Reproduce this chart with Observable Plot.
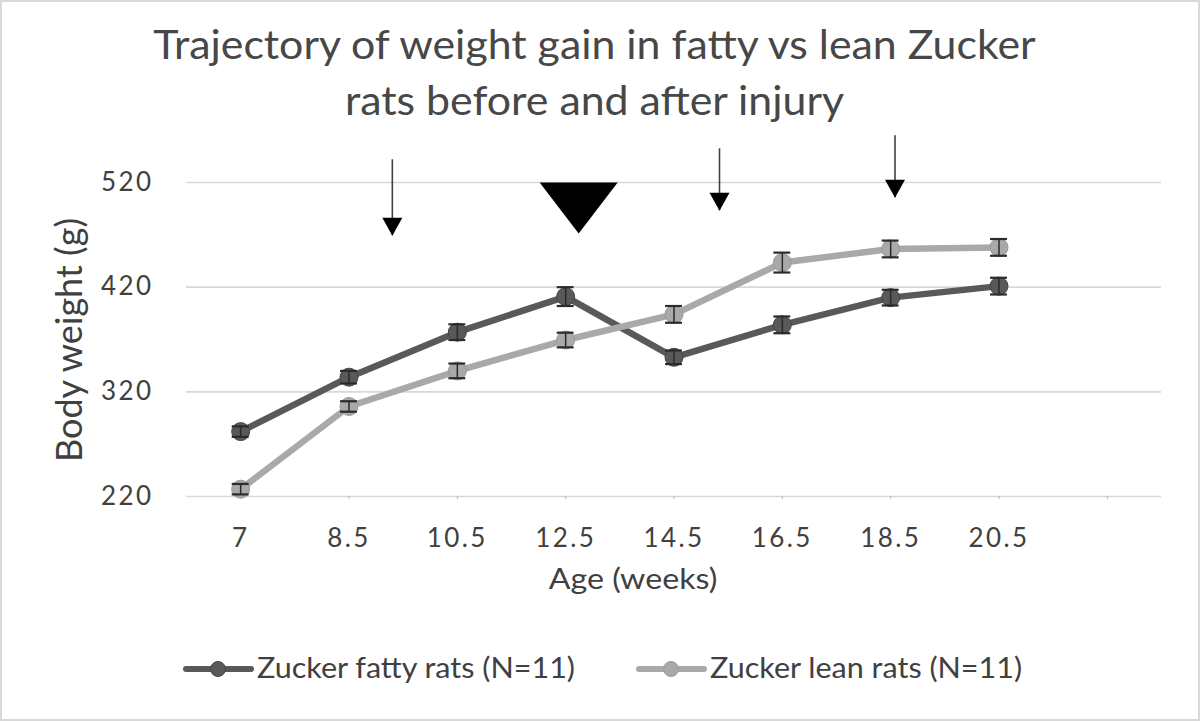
<!DOCTYPE html>
<html>
<head>
<meta charset="utf-8">
<script src="https://cdn.jsdelivr.net/npm/d3@7"></script>
<script src="https://cdn.jsdelivr.net/npm/@observablehq/plot@0.6"></script>
<style>
  body { margin: 0; background: #fff; }
  #wrap { position: relative; width: 1200px; height: 721px; overflow: hidden; font-family: Lato, "Open Sans", sans-serif; color: #404040; background: #fff; }
  #frame { position: absolute; left: 0; top: 0; width: 1196px; height: 717px; border: 2px solid #d9d9d9; pointer-events: none; }
  #chart { position: absolute; left: 0; top: 0; }
  #chart g[aria-label="y-axis tick label"] text,
  #chart g[aria-label="x-axis tick label"] text { letter-spacing: 2.4px; }
  #title { position: absolute; left: 0; width: 1189px; top: 16px; text-align: center; font-size: 41px; line-height: 56px; color: #474747; white-space: nowrap; transform: scaleX(1.045); transform-origin: 594.5px 0; }
  #ylabel { position: absolute; width: 320px; left: -92px; top: 320px; height: 40px; line-height: 40px; text-align: center; font-size: 36px; transform: rotate(-90deg); white-space: nowrap; }
  #xlabel { position: absolute; left: 433px; width: 400px; top: 561px; text-align: center; font-size: 29px; line-height: 1.2; white-space: nowrap; transform: scaleX(1.11); }
  .leg { position: absolute; top: 651px; font-size: 28px; line-height: 1.2; white-space: nowrap; transform: scaleX(1.09); transform-origin: 0 0; }
  .sw { position: absolute; top: 659px; }
</style>
</head>
<body>
<div id="wrap">
  <div id="chart"></div>
  <div id="title"></div>
  <div id="ylabel"></div>
  <div id="xlabel"></div>
  <div id="legend"></div>
  <div id="frame"></div>
</div>
<script>
// ---- data ----
const weeks = ["7", "8.5", "10.5", "12.5", "14.5", "16.5", "18.5", "20.5"];
const fatty = [282, 334, 377, 411, 353, 384, 410, 421];
const fattyErr = [5, 6, 7.5, 9, 6.5, 8, 7.5, 8];
const lean = [227, 306, 340, 369.5, 394, 443.5, 456.5, 458];
const leanErr = [5, 5, 7, 7, 8, 9.5, 8, 8];
const yTicks = [220, 320, 420, 520];
const seriesNames = ["Zucker fatty rats (N=11)", "Zucker lean rats (N=11)"];
const seriesColors = ["#595959", "#a9a9a9"];
const markerStroke = ["#454545", "#9a9a9a"];
// annotation arrows (x in category-index units, y in grams)
const arrowX = [1.40, 4.42, 6.04];
const arrowTop = [541.7, 552.2, 564.6];
const arrowTip = [469.1, 493, 505.4];
const injuryX = [3.12];
const injuryTip = [471.3];
const titleLines = ["Trajectory of weight gain in fatty vs lean Zucker", "rats before and after injury"];
const yTitle = "Body weight (g)";
const xTitle = "Age (weeks)";

// ---- tables built from the arrays ----
const rows = [];
weeks.forEach((w, i) => {
  rows.push({i, week: w, value: fatty[i], err: fattyErr[i], series: seriesNames[0]});
});
weeks.forEach((w, i) => {
  rows.push({i, week: w, value: lean[i], err: leanErr[i], series: seriesNames[1]});
});
const arrows = arrowX.map((x, k) => ({x, top: arrowTop[k], tip: arrowTip[k]}));
const injury = injuryX.map((x, k) => ({x, tip: injuryTip[k]}));

// custom downward-pointing triangle symbols, tip at the anchor point
const headSymbol = (w, h) => ({
  draw(ctx) { ctx.moveTo(0, 0); ctx.lineTo(-w / 2, -h); ctx.lineTo(w / 2, -h); ctx.closePath(); }
});
const smallHead = headSymbol(20, 18);
const bigHead = headSymbol(78, 51);

const seriesMarks = seriesNames.flatMap((s, k) => {
  const d = rows.filter(r => r.series === s);
  return [
    Plot.line(d, {x: "i", y: "value", stroke: seriesColors[k], strokeWidth: 6.5, strokeLinejoin: "round"}),
    Plot.dot(d, {x: "i", y: "value", r: 9, fill: seriesColors[k], stroke: markerStroke[k], strokeWidth: 1}),
    Plot.ruleX(d, {x: "i", y1: r => r.value - r.err, y2: r => r.value + r.err, stroke: "#2b2b2b", strokeWidth: 1.5}),
    Plot.ruleY(d, {y: r => r.value + r.err, x1: r => r.i - 0.078, x2: r => r.i + 0.078, stroke: "#2b2b2b", strokeWidth: 2.2}),
    Plot.ruleY(d, {y: r => r.value - r.err, x1: r => r.i - 0.078, x2: r => r.i + 0.078, stroke: "#2b2b2b", strokeWidth: 2.2})
  ];
});

const chart = Plot.plot({
  width: 1200,
  height: 721,
  marginLeft: 186,
  marginRight: 39,
  marginTop: 182,
  marginBottom: 225,
  style: {fontFamily: "Lato, 'Open Sans', sans-serif", background: "transparent", color: "#404040"},
  x: {domain: [-0.5, 8.5], axis: null},
  y: {domain: [220, 520], axis: null},
  marks: [
    Plot.gridY(yTicks, {stroke: "#d9d9d9", strokeOpacity: 1, strokeWidth: 1.6}),
    Plot.axisY({ticks: yTicks, tickSize: 0, tickPadding: 33, fontSize: 26, color: "#404040", label: null}),
    Plot.axisX({ticks: d3.range(9), tickFormat: i => weeks[i] ?? "", tickSize: 3, tickPadding: 29,
                fontSize: 26, color: "#404040", stroke: "#b4b8c8", label: null}),
    ...seriesMarks,
    Plot.ruleX(arrows, {x: "x", y1: "top", y2: "tip", stroke: "#404040", strokeWidth: 1.6}),
    Plot.dot(arrows, {x: "x", y: "tip", symbol: smallHead, r: 5, fill: "#000", stroke: "none"}),
    Plot.dot(injury, {x: "x", y: "tip", symbol: bigHead, r: 5, fill: "#000", stroke: "none"})
  ]
});
document.getElementById("chart").appendChild(chart);

// ---- titles ----
document.getElementById("title").innerHTML = titleLines.join("<br>");
document.getElementById("ylabel").textContent = yTitle;
document.getElementById("xlabel").textContent = xTitle;

// ---- legend ----
const legendX = [183, 636];
const legend = document.getElementById("legend");
seriesNames.forEach((s, k) => {
  const sw = d3.create("svg").attr("class", "sw").attr("width", 72).attr("height", 20)
    .style("left", legendX[k] + "px");
  sw.append("line").attr("x1", 3).attr("x2", 68).attr("y1", 10).attr("y2", 10)
    .attr("stroke", seriesColors[k]).attr("stroke-width", 6).attr("stroke-linecap", "round");
  sw.append("circle").attr("cx", 35).attr("cy", 10).attr("r", 7.5)
    .attr("fill", seriesColors[k]).attr("stroke", markerStroke[k]);
  legend.appendChild(sw.node());
  const t = document.createElement("div");
  t.className = "leg";
  t.style.left = (legendX[k] + 74) + "px";
  t.textContent = s;
  legend.appendChild(t);
});
</script>
</body>
</html>
